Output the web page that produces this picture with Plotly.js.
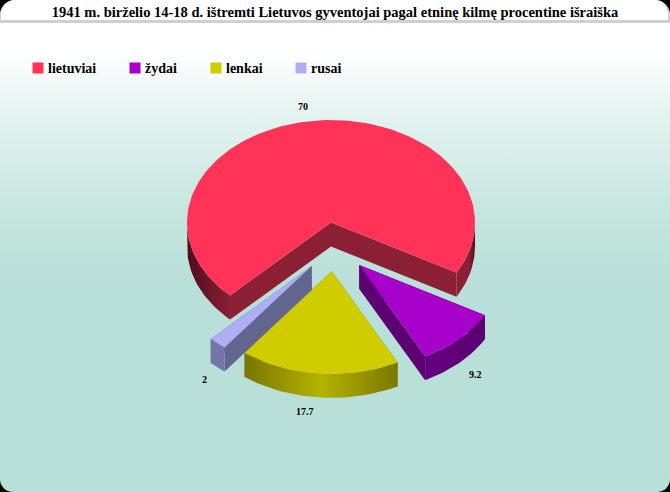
<!DOCTYPE html>
<html><head><meta charset="utf-8">
<script src="https://cdn.plot.ly/plotly-3.0.1.min.js"></script>
<style>
html,body{margin:0;padding:0;background:#000;width:670px;height:492px;overflow:hidden}
#frame{position:absolute;left:0;top:0;width:670px;height:492px;overflow:hidden;border-radius:15px 15px 13px 13px;
background:linear-gradient(180deg,#fff 0,#fff 50px,#e6f4f1 110px,#c9e7e1 200px,#b8dfd8 285px,#b8dfd8 492px)}
#band{position:absolute;left:0;top:0;width:667px;height:20px;background:#fff;border:solid #cfcfcf;border-width:0 2px 3px 1px;border-radius:15px 15px 0 0}
#chart{position:absolute;left:0;top:0;width:670px;height:492px}
</style></head>
<body>
<div id="frame"><div id="band"></div><div id="chart"></div></div>
<script>
var titleText = '1941 m. birželio 14-18 d. ištremti Lietuvos gyventojai pagal etninę kilmę procentine išraiška';
var categories = ['lietuviai', 'žydai', 'lenkai', 'rusai'];
var values = [70, 9.2, 17.7, 2];

// Styling and layout of the pseudo-3D pie (pixels, colours) - not data
var topColors  = ['#ff3358', '#a600ca', '#cfcc00', '#aeaef4'];
var edgeColors = ['#8a1f36', '#5c0072', '#7d7b00', '#62668f'];
var rimStops = [
  [['#8a1f36', '#8a1f36'], ['#8a1f36','#5c1020']],
  [['#650080', '#5a0070']],
  [['#787600', '#b5b300', '#7a7800']],
  [['#7276a8', '#7276a8']]
];
var leftRimStops = ['#500c1c', '#8a1f36'];
var explodeX = [0, 28.3, 0.7, -19.3];
var explodeY = [0, 42.5, 48.8, 43.5];
var cx = 331, cy = 222.5, rx = 144, ry = 102.5, depth = 24;
var firstAngle = 134.5;
var legendSwatchX = [38, 135, 216, 301];
var legendY = 68;
var legendTextGap = 8;
var labelX = [303, 475, 305, 204];
var labelY = [106, 374, 411, 379];

var total = values.reduce(function (a, b) { return a + b; }, 0);
function pt(ox, oy, deg, dz) {
  var a = deg * Math.PI / 180;
  return [ox + rx * Math.cos(a), oy + ry * Math.sin(a) + dz];
}
function arc(ox, oy, t0, t1, dz) {
  var out = [], n = Math.max(2, Math.ceil(Math.abs(t1 - t0) / 1.5));
  for (var i = 0; i <= n; i++) out.push(pt(ox, oy, t0 + (t1 - t0) * i / n, dz));
  return out;
}
function poly(points, color, gradient) {
  var tr = {
    type: 'scatter', mode: 'lines', hoverinfo: 'skip', showlegend: false,
    x: points.map(function (p) { return p[0]; }),
    y: points.map(function (p) { return p[1]; }),
    fill: 'toself', fillcolor: color, line: {width: 0}
  };
  if (gradient) {
    var s = gradient.map(function (c, i) { return [i / (gradient.length - 1), c]; });
    tr.fillgradient = {type: 'horizontal', colorscale: s};
  }
  return tr;
}
function quad(ox, oy, deg, color) {
  var e = pt(ox, oy, deg, 0), f = pt(ox, oy, deg, depth);
  return poly([[ox, oy], e, f, [ox, oy + depth]], color);
}
var traces = [];
var angle = firstAngle;
values.forEach(function (v, i) {
  var span = v / total * 360, t0 = angle, t1 = angle + span;
  var ox = cx + explodeX[i], oy = cy + explodeY[i];
  traces.push(quad(ox, oy, t0, edgeColors[i]));
  traces.push(quad(ox, oy, t1, edgeColors[i]));
  [[0, 180], [360, 540]].forEach(function (range) {
    var a = Math.max(t0, range[0]), b = Math.min(t1, range[1]);
    if (b <= a) return;
    var upper = arc(ox, oy, a, b, 0), lower = arc(ox, oy, b, a, depth);
    var grad;
    if (i === 0) grad = (range[0] === 0) ? leftRimStops : rimStops[0][0].concat(rimStops[0][1]);
    else grad = rimStops[i][0];
    traces.push(poly(upper.concat(lower), edgeColors[i], grad));
  });
  traces.push(poly([[ox, oy]].concat(arc(ox, oy, t0, t1, 0)), topColors[i]));
  angle = t1;
});
traces.push({
  type: 'scatter', mode: 'markers', hoverinfo: 'skip', showlegend: false,
  x: legendSwatchX, y: categories.map(function () { return legendY; }),
  marker: {symbol: 'square', size: 11, color: topColors, line: {width: 0}}
});

var serif = 'Liberation Serif, Times New Roman, serif';
var annotations = categories.map(function (c, i) {
  return {xref: 'x', yref: 'y', x: legendSwatchX[i] + legendTextGap, y: legendY, text: c,
    xanchor: 'left', yanchor: 'middle', showarrow: false,
    font: {family: serif, size: 14, weight: 700, color: '#000'}};
}).concat(values.map(function (v, i) {
  return {xref: 'x', yref: 'y', x: labelX[i], y: labelY[i], text: String(v),
    xanchor: 'center', yanchor: 'middle', showarrow: false,
    font: {family: serif, size: 10, weight: 700, color: '#000'}};
}));

Plotly.newPlot('chart', traces, {
  width: 670, height: 492,
  margin: {l: 0, r: 0, t: 0, b: 0},
  paper_bgcolor: 'rgba(0,0,0,0)', plot_bgcolor: 'rgba(0,0,0,0)',
  showlegend: false,
  title: {text: titleText, x: 0.5, xanchor: 'center', y: 1 - 12 / 492, yanchor: 'middle',
    font: {family: serif, size: 14.5, weight: 700, color: '#000'}},
  xaxis: {range: [0, 670], visible: false, fixedrange: true},
  yaxis: {range: [492, 0], visible: false, fixedrange: true},
  annotations: annotations
}, {displayModeBar: false, staticPlot: true});
</script>
</body></html>
